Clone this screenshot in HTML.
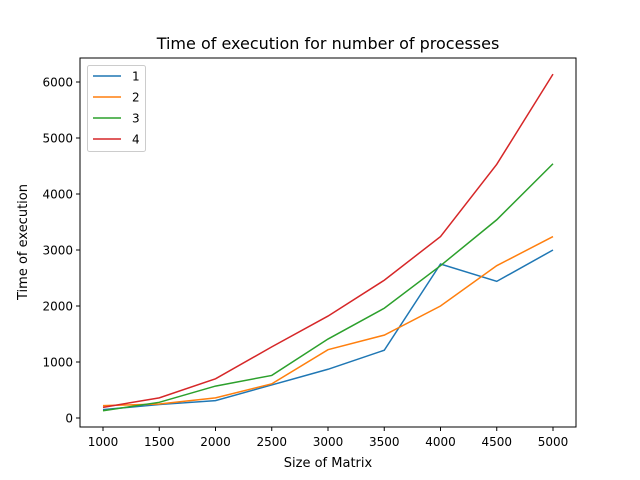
<!DOCTYPE html>
<html><head><meta charset="utf-8"><style>body{margin:0;background:#fff}svg{display:block}text{font-family:"DejaVu Sans","Liberation Sans",sans-serif;fill:#000}</style></head>
<body>
<svg id="chart" width="640" height="480">
<rect x="0" y="0" width="640" height="480" fill="#fff"/>
<text x="328" y="49" font-size="16" text-anchor="middle">Time of execution for number of processes</text>
<text x="328" y="467" font-size="13" text-anchor="middle">Size of Matrix</text>
<text x="27" y="242" font-size="13" text-anchor="middle" transform="rotate(-90 27 242)">Time of execution</text>
<g id="plot"></g>
<rect x="80" y="58" width="496" height="369" fill="none" stroke="#000" stroke-width="1"/>
<g id="legend"></g>
</svg>
<script>
const categories=[1000,1500,2000,2500,3000,3500,4000,4500,5000];
const seriesNames=["1","2","3","4"];
const s1=[150,240,310,590,870,1210,2750,2440,3000];
const s2=[220,250,360,610,1220,1480,2000,2720,3240];
const s3=[130,280,570,760,1410,1960,2720,3540,4540];
const s4=[190,360,700,1270,1820,2460,3240,4530,6140];
const xTicks=[1000,1500,2000,2500,3000,3500,4000,4500,5000];
const yTicks=[0,1000,2000,3000,4000,5000,6000];
const colors=["#1f77b4","#ff7f0e","#2ca02c","#d62728"];
const NS="http://www.w3.org/2000/svg";
const xs=v=>103+(v-1000)*450/4000;
const ys=v=>418-v*336/6000;
const plot=document.getElementById('plot');
function mk(t,a,p){const e=document.createElementNS(NS,t);for(const k in a)e.setAttribute(k,a[k]);(p||plot).appendChild(e);return e;}
xTicks.forEach(v=>{
 const l=mk('line',{x1:xs(v),x2:xs(v),y1:427,y2:431,stroke:'#000'});
 
 
 const t=mk('text',{x:xs(v),y:446,'font-size':12,'text-anchor':'middle'});t.textContent=v;
 
 
});
yTicks.forEach(v=>{
 const l=mk('line',{x1:76,x2:80,y1:ys(v),y2:ys(v),stroke:'#000'});
 
 
 const t=mk('text',{x:73,y:ys(v)+4.5,'font-size':12,'text-anchor':'end'});t.textContent=v;
 
 
});
[s1,s2,s3,s4].forEach((s,i)=>{
 const p=mk('polyline',{points:s.map((v,j)=>xs(categories[j])+','+ys(v)).join(' '),fill:'none',stroke:colors[i],'stroke-width':1.5});
 
 
});
const lg=document.getElementById('legend');
const box=mk('rect',{x:87.5,y:65.5,width:58,height:86,rx:2,fill:'#fff',stroke:'#ccc'},lg);


seriesNames.forEach((n,i)=>{
 const y=76+i*21;
 const l=mk('line',{x1:93,x2:121,y1:y,y2:y,stroke:colors[i],'stroke-width':1.5},lg);
 
 
 const t=mk('text',{x:132,y:y+4.5,'font-size':12},lg);t.textContent=n;
 
 
});
</script>
</body></html>
